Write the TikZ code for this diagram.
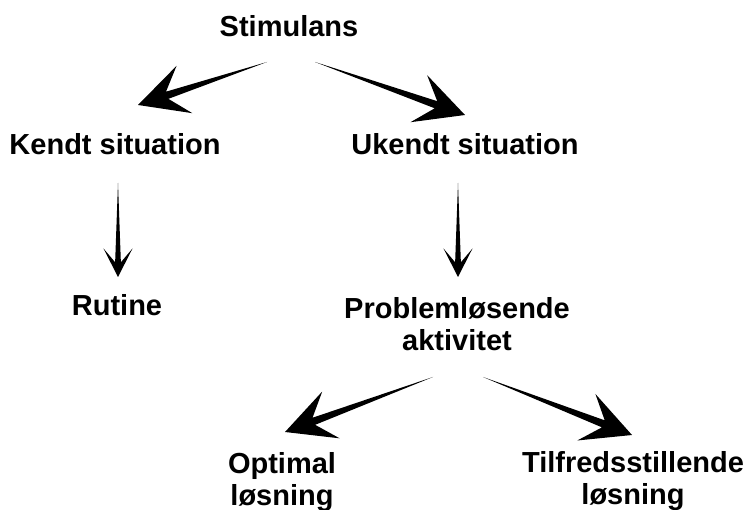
\documentclass[tikz,border=0pt]{standalone}
\usepackage{fontspec}
\setmainfont{Liberation Sans}
\usetikzlibrary{calc}

% Pil som bliver bredere mod spidsen: #1 hale, #2 spids, #3/#4 modhager, #5/#6 skaft
\newcommand{\kilepil}[6]{%
  \fill (#2) -- ($(#2)!#3!#4:(#1)$) -- ($(#2)!#5!#6:(#1)$) -- (#1)
    -- ($(#2)!#5!-#6:(#1)$) -- ($(#2)!#3!-#4:(#1)$) -- cycle;}

\begin{document}
\begin{tikzpicture}[x=1pt,y=-1pt,
    tekst/.style={font=\fontsize{29}{32}\selectfont\bfseries,inner sep=0pt,align=center}]

    \useasboundingbox (0,0) rectangle (745,510);

    % Tekster
    \node[tekst,anchor=base] (stim) at (289,37) {Stimulans};
    \node[tekst,anchor=base] (kendt) at (115,155) {Kendt situation};
    \node[tekst,anchor=base] (ukendt) at (465,155) {Ukendt situation};
    \node[tekst,anchor=base] (rutine) at (117,316) {Rutine};
    \node[tekst,anchor=north] (problem) at (457,297) {Problemløsende\\aktivitet};
    \node[tekst,anchor=north] (optimal) at (282,452) {Optimal\\løsning};
    \node[tekst,anchor=north] (tilfreds) at (633,451) {Tilfredsstillende\\løsning};

    % Koordinater for pilenes hale og spids
    \coordinate (hale1) at (267,62);
    \coordinate (spids1) at (138,105);
    \coordinate (hale2) at (315,62);
    \coordinate (spids2) at (465,115);
    \coordinate (hale3) at (118,183);
    \coordinate (spids3) at (118,277);
    \coordinate (hale4) at (458,183);
    \coordinate (spids4) at (458,277);
    \coordinate (hale5) at (433,377);
    \coordinate (spids5) at (285,432);
    \coordinate (hale6) at (483,377);
    \coordinate (spids6) at (632,435);

    % Skraa pile
    \kilepil{hale1}{spids1}{55pt}{27}{31pt}{7}
    \kilepil{hale2}{spids2}{55pt}{27}{31pt}{7}
    \kilepil{hale5}{spids5}{55pt}{27}{31pt}{7}
    \kilepil{hale6}{spids6}{55pt}{27}{31pt}{7}

    % Lodrette pile
    \kilepil{hale3}{spids3}{32pt}{27}{15pt}{11}
    \kilepil{hale4}{spids4}{32pt}{27}{15pt}{11}
\end{tikzpicture}
\end{document}
